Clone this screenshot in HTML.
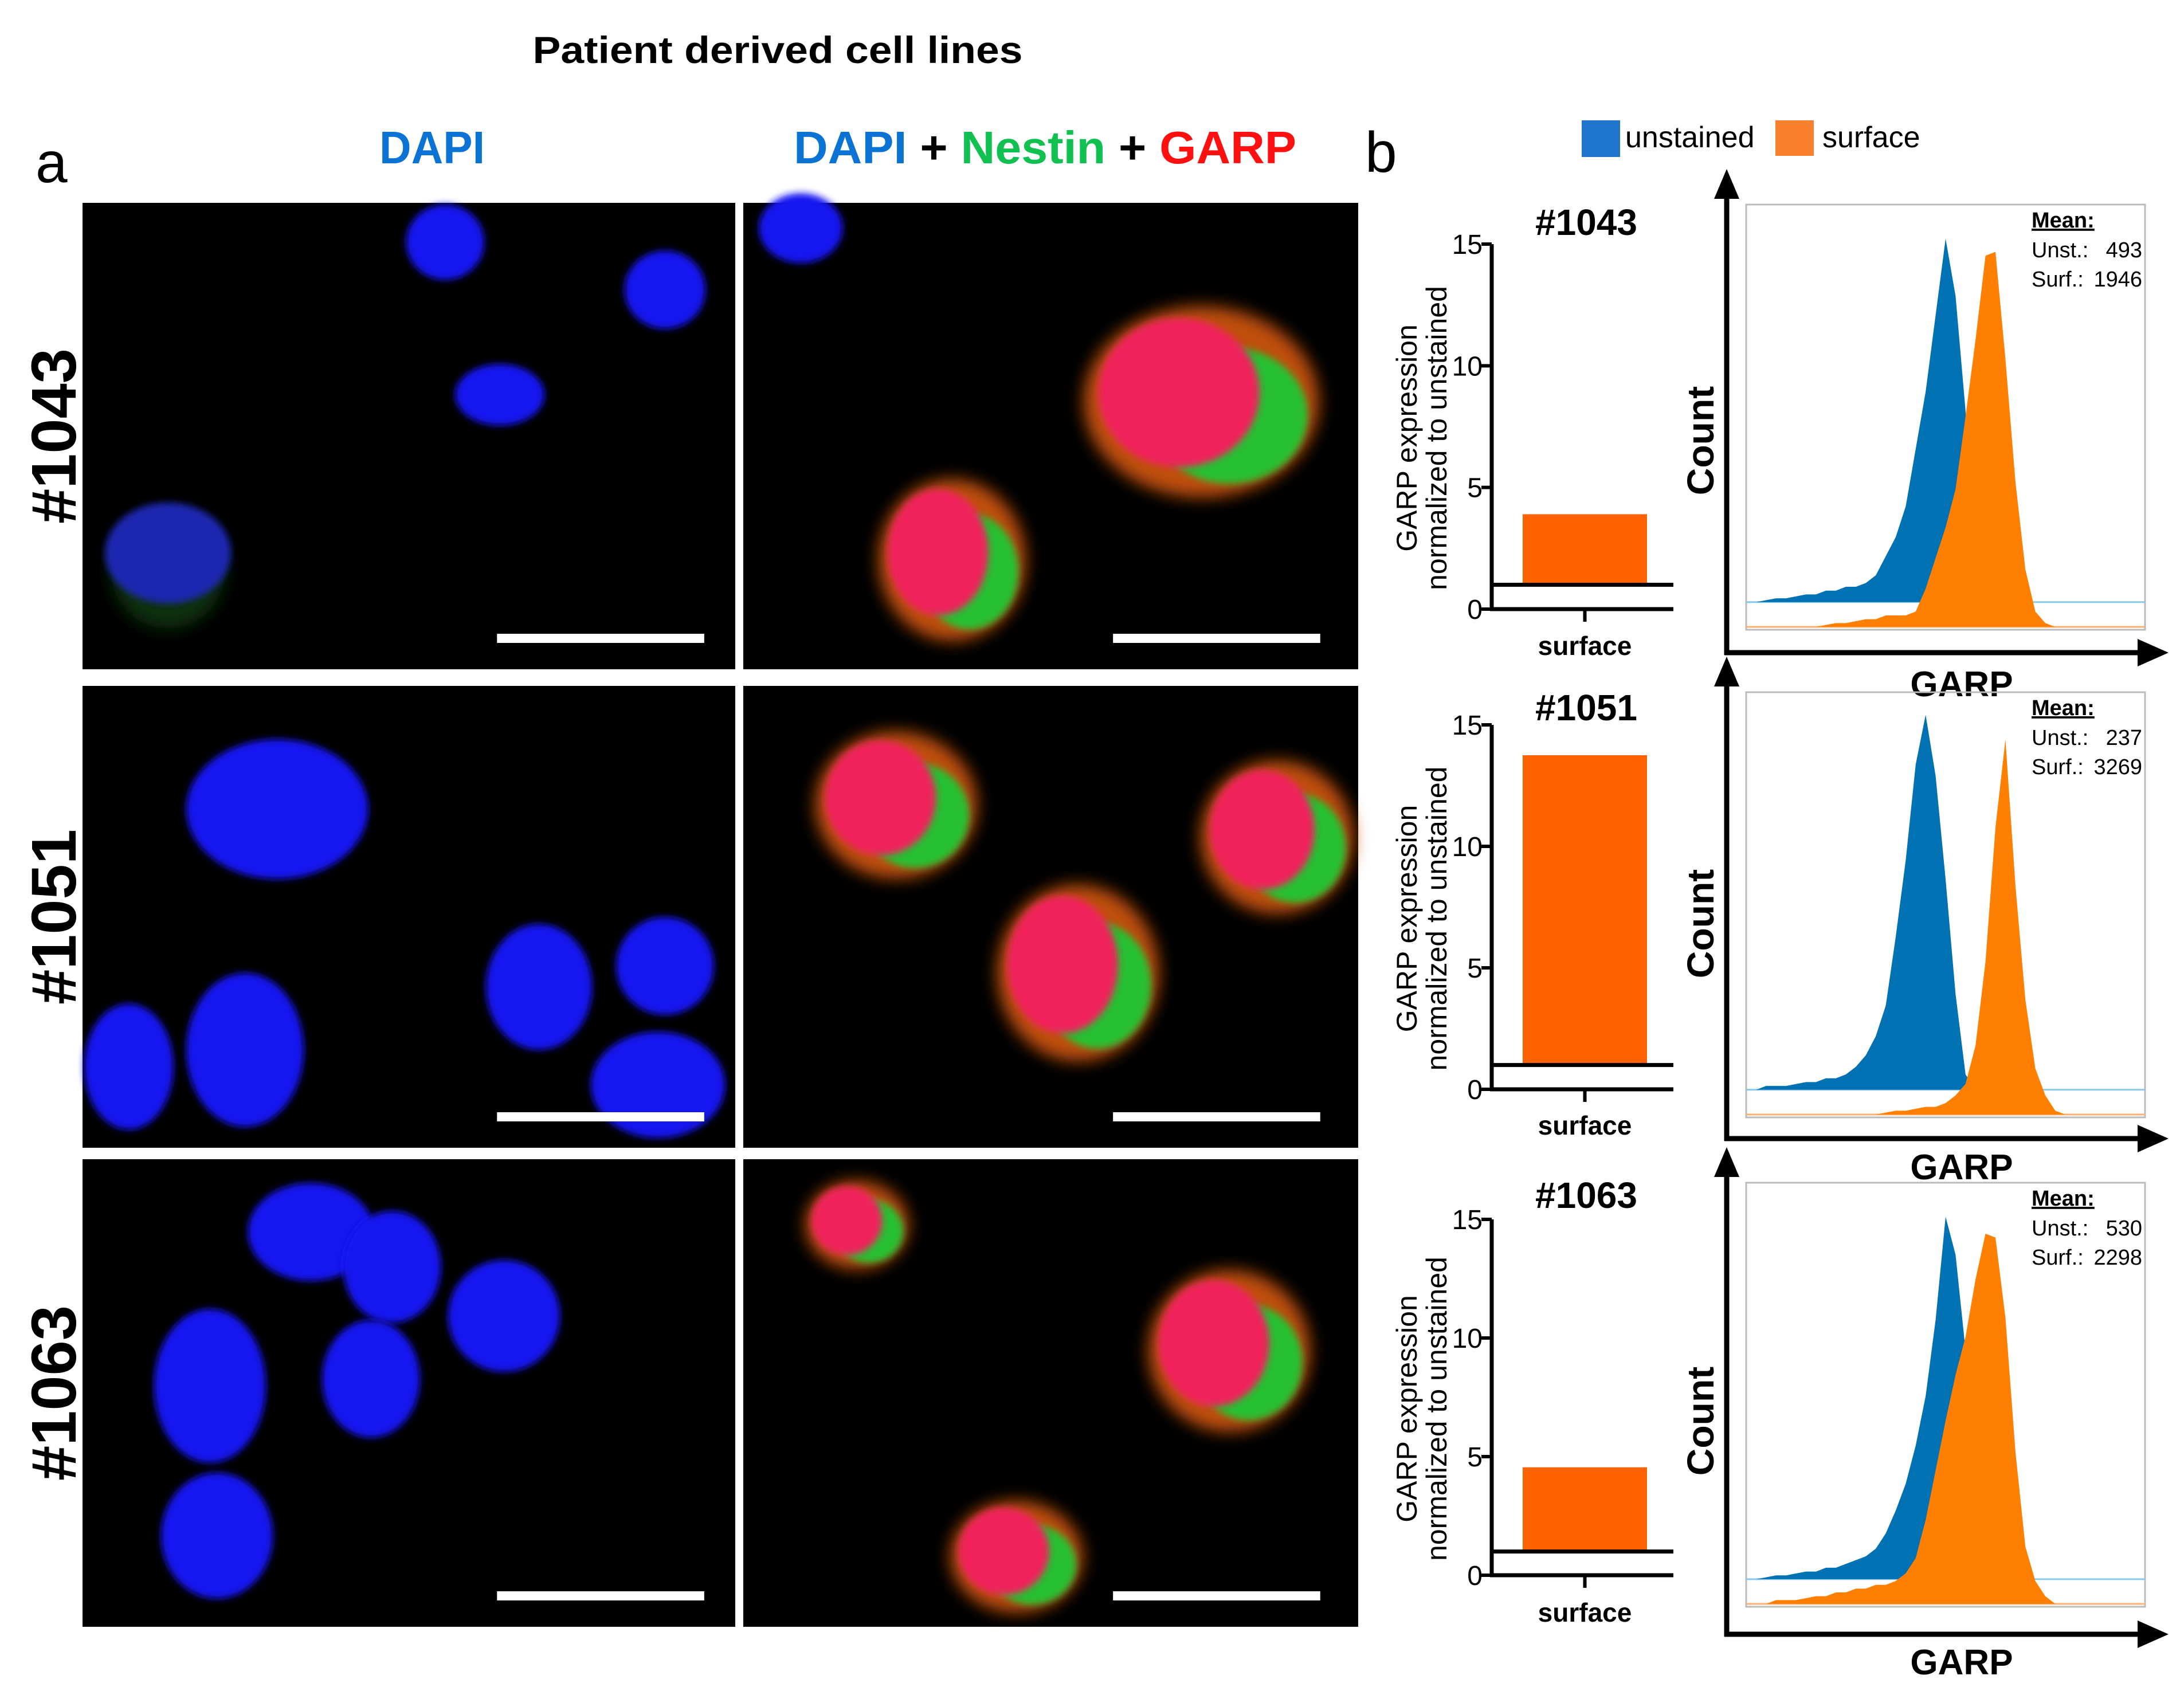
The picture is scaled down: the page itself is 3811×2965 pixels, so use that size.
<!DOCTYPE html>
<html><head><meta charset="utf-8"><style>
html,body{margin:0;padding:0;background:#fff}
svg{display:block;font-family:"Liberation Sans",sans-serif}
</style></head><body>
<svg id="fig" width="3811" height="2965" viewBox="0 0 3811 2965" xmlns="http://www.w3.org/2000/svg">
<defs>
<filter id="blur" x="-30%" y="-30%" width="160%" height="160%"><feGaussianBlur stdDeviation="6"/></filter>
<filter id="blur2" x="-30%" y="-30%" width="160%" height="160%"><feGaussianBlur stdDeviation="14"/></filter>
</defs>
<text x="1357" y="110" text-anchor="middle" font-size="66" font-weight="bold" textLength="855" lengthAdjust="spacingAndGlyphs">Patient derived cell lines</text>
<text x="62" y="318" font-size="100">a</text>
<text x="2382" y="300" font-size="100">b</text>
<text x="662" y="285" font-size="80" font-weight="bold" fill="#0a73d4" textLength="184" lengthAdjust="spacingAndGlyphs">DAPI</text>
<text x="1385" y="285" font-size="80" font-weight="bold" textLength="877" lengthAdjust="spacingAndGlyphs"><tspan fill="#0a73d4">DAPI</tspan><tspan fill="#000"> + </tspan><tspan fill="#10c050">Nestin</tspan><tspan fill="#000"> + </tspan><tspan fill="#ff1010">GARP</tspan></text>
<g>
<rect x="2760" y="210" width="67" height="64" fill="#1f74cc"/>
<text x="2836" y="257" font-size="52">unstained</text>
<rect x="3098" y="210" width="67" height="62" fill="#f9802c"/>
<text x="3180" y="257" font-size="52">surface</text>
</g>
<g id="micro"></g>
<g id="bars"></g>
<g id="hists"></g>
</svg>
<script>
// ---- Data ----
const rowIds = ["#1043", "#1051", "#1063"];
const barValues = [3.9, 13.75, 4.55];
const barTicks = [0, 5, 10, 15];
const meanUnst = ["493", "237", "530"];
const meanSurf = ["1946", "3269", "2298"];
const unst1043 = [0,0,0.5,1,1,1.5,2,2,3,3,4,4,5,7,12,17,25,40,55,75,95,80,50,10,0,0,0,0,0,0,0,0,0,0,0,0,0,0,0,0,0];
const surf1043 = [0,0,0,0,0,0,0,0,0.5,1,1,1.5,2,2,3,3,3,4,10,18,26,36,55,75,97,98,70,38,15,4,1,0,0,0,0,0,0,0,0,0,0];
const unst1051 = [0,0,1,1,1,1.5,2,2,3,3,4,6,9,14,22,40,60,85,98,82,55,25,4,0,0,0,0,0,0,0,0,0,0,0,0,0,0,0,0,0,0];
const surf1051 = [0,0,0,0,0,0,0,0,0,0,0,0,0,0,0.5,1,1,1.5,2,2,3,5,8,18,40,75,98,60,30,12,5,1,0,0,0,0,0,0,0,0,0];
const unst1063 = [0,0,0.5,1,1,1.5,2,2,3,3,4,5,6,8,12,18,25,35,48,68,95,85,60,25,5,0,0,0,0,0,0,0,0,0,0,0,0,0,0,0,0];
const surf1063 = [0,0,0,1,1,1,1.5,2,2,3,3,4,4,5,5,6,8,12,22,35,48,60,70,85,97,96,75,40,15,6,2,0,0,0,0,0,0,0,0,0,0];
const unstSeries = [unst1043, unst1051, unst1063];
const surfSeries = [surf1043, surf1051, surf1063];

// ---- Layout (pixels) ----
const NS = "http://www.w3.org/2000/svg";
function mk(tag, attrs, parent, txt){const e=document.createElementNS(NS,tag);for(const k in attrs)e.setAttribute(k,attrs[k]);if(txt!==undefined)e.textContent=txt;parent.appendChild(e);return e;}
const barLayout = [{y15:426,y0:1063,title:385,surf:1125},{y15:1265,y0:1901,title:1232,surf:1962},{y15:2128,y0:2749,title:2083,surf:2812}];
const histLayout = [{top:357,bot:1099,arrow:1139,garp:1205,count:769},{top:1208,bot:1950,arrow:1987,garp:2048,count:1612},{top:2064,bot:2804,arrow:2852,garp:2912,count:2480}];
const microRows = [{y:354,h:814},{y:1197,h:806},{y:2023,h:816}];
const S = 2.443;

// ---- Microscopy panels ----
const micro = document.getElementById('micro');
const cells = [
 [ // row 1
  [[318,173,28,27,'n'],[475,207,29,28,'n'],[357,282,32,22,'n'],[120,395,45,45,'d']],
  [[572,163,30,25,'n'],[858,287,80,65,'m'],[680,400,50,55,'m']]
 ],
 [
  [[198,578,65,50,'n'],[92,762,32,45,'n'],[175,750,42,55,'n'],[385,705,38,45,'n'],[475,690,35,35,'n'],[470,775,48,38,'n']],
  [[640,575,55,50,'m'],[912,598,52,52,'m'],[770,695,55,60,'m']]
 ],
 [
  [[222,880,45,35,'n'],[280,905,35,40,'n'],[360,940,40,40,'n'],[150,990,40,55,'n'],[265,985,35,42,'n'],[155,1097,40,45,'n']],
  [[612,875,35,30,'m'],[878,965,55,55,'m'],[726,1112,45,38,'m']]
 ]
];
const colX = [[144,1139],[1297,1073]];
microRows.forEach((r,i)=>{
  const g = mk('g',{},micro);
  
  
  const lab = mk('text',{x:0,y:0,'font-size':110,'font-weight':'bold',transform:`translate(132,${r.y+r.h/2}) rotate(-90)`,'text-anchor':'middle'},g,rowIds[i]);
  
  
  colX.forEach((c,j)=>{
    const p = mk('rect',{x:c[0],y:r.y,width:c[1],height:r.h,fill:'#000'},g);
    
    
    cells[i][j].forEach(cl=>{
      const cx=cl[0]*S, cy=cl[1]*S, rx=cl[2]*S, ry=cl[3]*S;
      let e;
      if(cl[4]==='n'){
        e=mk('ellipse',{cx,cy,rx,ry,fill:'#1414f0',filter:'url(#blur)'},g);
      } else if(cl[4]==='d'){
        mk('ellipse',{cx,cy:cy+ry*0.3,rx:rx*0.9,ry:ry*0.9,fill:'#0a3010',filter:'url(#blur2)'},g);
        e=mk('ellipse',{cx,cy,rx,ry:ry*0.8,fill:'#1a28b0',filter:'url(#blur)'},g);
      } else {
        mk('ellipse',{cx,cy,rx:rx*1.05,ry:ry*1.05,fill:'#c05010',filter:'url(#blur2)'},g);
        mk('ellipse',{cx:cx+rx*0.25,cy:cy+ry*0.15,rx:rx*0.7,ry:ry*0.75,fill:'#28c030',filter:'url(#blur)'},g);
        e=mk('ellipse',{cx:cx-rx*0.2,cy:cy-ry*0.1,rx:rx*0.72,ry:ry*0.82,fill:'#f0205c',filter:'url(#blur)'},g);
      }
      
      
    });
    const sb = mk('rect',{x:(j===0?355:795)*S,y:r.y+r.h-62,width:148*S,height:16,fill:'#fff'},g);
    
    
  });
});

// ---- Bar charts ----
const bars = document.getElementById('bars');
const axX = 2603, barX0 = 2657, barX1 = 2874, axEnd = 2920;
barValues.forEach((v,i)=>{
  const L = barLayout[i];
  const yS = val => L.y0 - (L.y0-L.y15)*val/15;
  const g = mk('g',{},bars);
  
  
  const t = mk('text',{x:2768,y:L.title+25,'text-anchor':'middle','font-size':64,'font-weight':'bold'},g,rowIds[i]);
  
  
  const b = mk('rect',{x:barX0,y:yS(v),width:barX1-barX0,height:yS(1)-yS(v),fill:'#ff6200'},g);
  
  
  const ref = mk('line',{x1:axX,x2:axEnd,y1:yS(1),y2:yS(1),stroke:'#000','stroke-width':7},g);
  
  
  const ya = mk('line',{x1:axX,x2:axX,y1:yS(15),y2:yS(0)+3,stroke:'#000','stroke-width':7},g);
  
  
  const xa = mk('line',{x1:axX-3,x2:axEnd,y1:yS(0),y2:yS(0),stroke:'#000','stroke-width':7},g);
  
  
  mk('line',{x1:(barX0+barX1)/2,x2:(barX0+barX1)/2,y1:yS(0),y2:yS(0)+22,stroke:'#000','stroke-width':6},g);
  barTicks.forEach(tv=>{
    mk('line',{x1:axX-18,x2:axX,y1:yS(tv),y2:yS(tv),stroke:'#000','stroke-width':6},g);
    const tl = mk('text',{x:axX-16,y:yS(tv)+17,'text-anchor':'end','font-size':48},g,String(tv));
    
    
  });
  const xl = mk('text',{x:(barX0+barX1)/2,y:L.surf+18,'text-anchor':'middle','font-size':46,'font-weight':'bold'},g,'surface');
  
  
  const cy = (yS(0)+yS(15))/2 + 20;
  const yt = mk('text',{'text-anchor':'middle','font-size':50,transform:`translate(2472,${cy}) rotate(-90)`},g);
  
  
  mk('tspan',{x:0,y:0},yt,'GARP expression');
  mk('tspan',{x:0,y:52},yt,'normalized to unstained');
});

// ---- Histograms ----
const hists = document.getElementById('hists');
const hx0 = 3047, hx1 = 3743, arrowX = 3013, nb = unst1043.length;
const xS = k => hx0 + (hx1-hx0)*k/(nb-1);
function areaPath(arr, base, h){
  let d = `M${xS(0)},${base}`;
  arr.forEach((c,k)=>{ d += ` L${xS(k)},${base - h*c/100}`; });
  d += ` L${xS(nb-1)},${base} Z`;
  return d;
}
histLayout.forEach((L,i)=>{
  const g = mk('g',{},hists);
  
  
  const H = L.bot-L.top;
  const box = mk('rect',{x:hx0,y:L.top,width:hx1-hx0,height:H,fill:'none',stroke:'#bbb','stroke-width':3},g);
  
  
  const oBase = L.bot-5, bBase = L.bot - 0.065*H, hh = 0.9*H;
  const ob = mk('line',{x1:hx0,x2:hx1,y1:oBase,y2:oBase,stroke:'#ffb070','stroke-width':3},g);
  const bl = mk('line',{x1:hx0,x2:hx1,y1:bBase,y2:bBase,stroke:'#8cc8ea','stroke-width':3},g);
  const pb = mk('path',{d:areaPath(unstSeries[i],bBase,hh),fill:'#0072b4'},g);
  
  
  const po = mk('path',{d:areaPath(surfSeries[i],oBase,hh),fill:'#ff8000'},g);
  
  
  // axes arrows
  const va = mk('line',{x1:arrowX,x2:arrowX,y1:L.top-20,y2:L.arrow+4,stroke:'#000','stroke-width':9},g);
  
  
  mk('polygon',{points:`${arrowX-22},${L.top-10} ${arrowX+22},${L.top-10} ${arrowX},${L.top-62}`,fill:'#000'},g);
  const ha = mk('line',{x1:arrowX-4,x2:3740,y1:L.arrow,y2:L.arrow,stroke:'#000','stroke-width':9},g);
  
  
  mk('polygon',{points:`3730,${L.arrow-24} 3730,${L.arrow+24} 3784,${L.arrow}`,fill:'#000'},g);
  const ct = mk('text',{'text-anchor':'middle','font-size':66,'font-weight':'bold',transform:`translate(2990,${L.count}) rotate(-90)`},g,'Count');
  
  
  const gt = mk('text',{x:3423,y:L.garp+10,'text-anchor':'middle','font-size':62,'font-weight':'bold'},g,'GARP');
  
  
  const mt = mk('text',{x:3545,y:L.top+40,'font-size':38,'font-weight':'bold','text-decoration':'underline'},g,'Mean:');
  
  
  const u = mk('text',{x:3545,y:L.top+92,'font-size':38},g,'Unst.:');
  
  
  mk('text',{x:3738,y:L.top+92,'font-size':38,'text-anchor':'end'},g,meanUnst[i]);
  const s = mk('text',{x:3545,y:L.top+143,'font-size':38},g,'Surf.:');
  
  
  mk('text',{x:3738,y:L.top+143,'font-size':38,'text-anchor':'end'},g,meanSurf[i]);
});
</script>
</body></html>
